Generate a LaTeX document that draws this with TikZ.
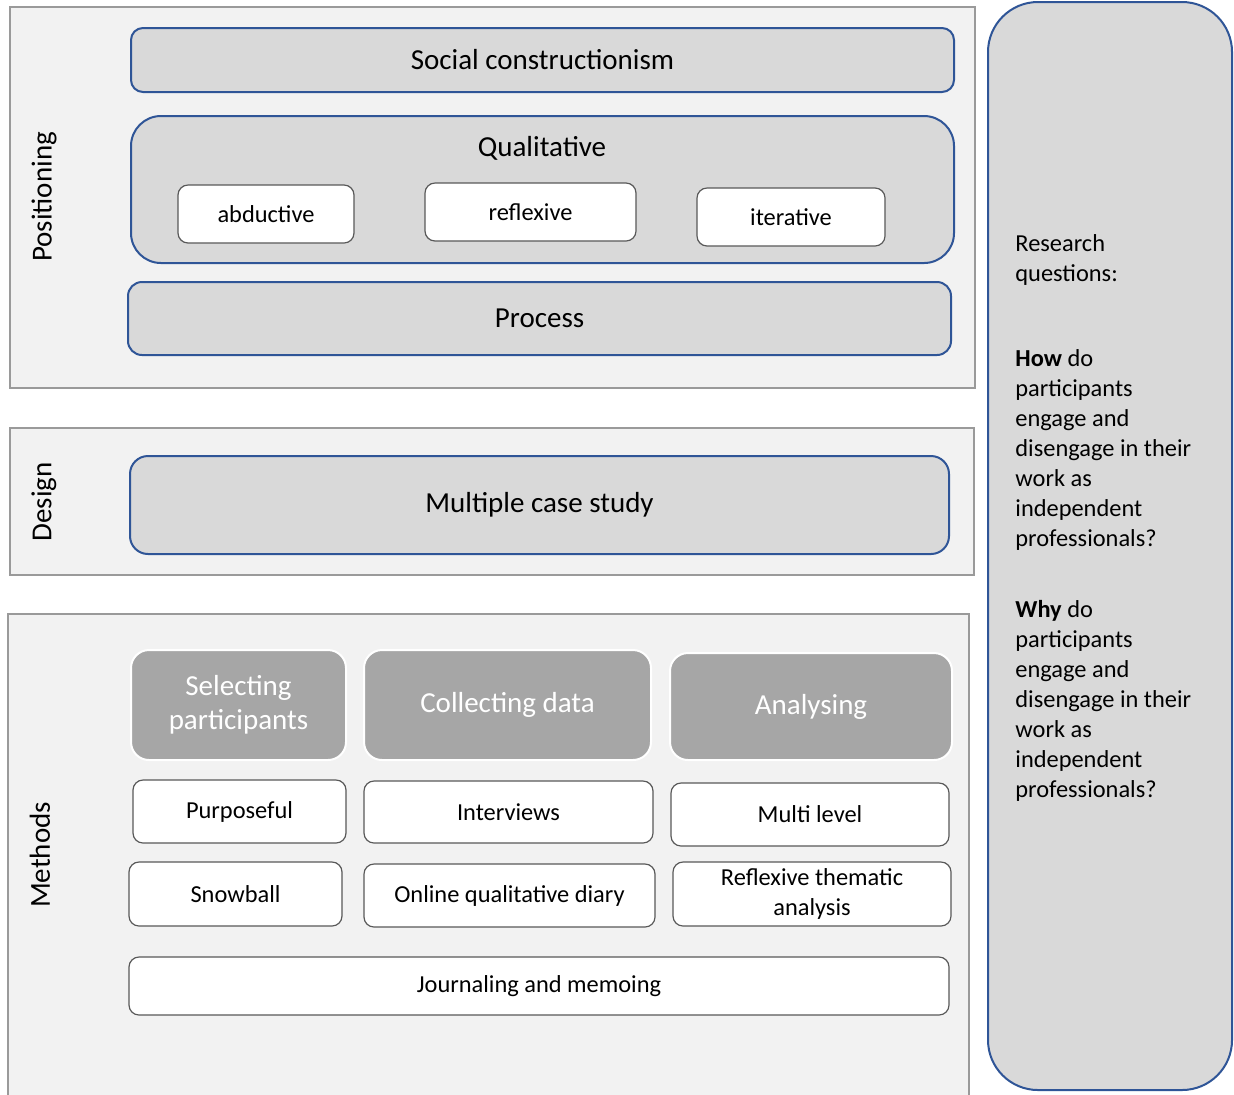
\documentclass[tikz,border=0pt]{standalone}
\usepackage{fontspec}
\setmainfont{Carlito}
\usetikzlibrary{positioning}

\definecolor{panelfill}{HTML}{F2F2F2}
\definecolor{panelline}{HTML}{9A9A9A}
\definecolor{boxblue}{HTML}{2F5597}
\definecolor{boxgray}{HTML}{D9D9D9}
\definecolor{headgray}{HTML}{A6A6A6}
\definecolor{itemline}{HTML}{595959}

\begin{document}
\begin{tikzpicture}[
    x=0.5pt,y=-0.5pt,
    big/.style={font=\fontsize{14.5}{17}\selectfont},
    small/.style={font=\fontsize{12.2}{15}\selectfont},
    panel/.style={draw=panelline,fill=panelfill,line width=1.1pt,inner sep=0mm},
    bluebox/.style={draw=boxblue,fill=boxgray,line width=1pt,
        rounded corners=6pt,inner sep=0mm,big},
    item/.style={draw=itemline,fill=white,line width=0.6pt,
        rounded corners=5pt,inner sep=0mm,small,align=center},
    head/.style={draw=white,fill=headgray,line width=1pt,text=white,
        rounded corners=9pt,inner sep=0mm,big,align=center},
    side/.style={rotate=90,big},
    rq/.style={anchor=west,inner sep=0mm,align=left,small}
]
 \clip (0,0) rectangle (1234,1094);
 \fill[white] (0,0) rectangle (1234,1094);

 % three panels on the left
 \node[panel,minimum width=482.5pt,minimum height=190.5pt] (pospanel) at (492.5,197.5) {};
 \node[panel,minimum width=482pt,minimum height=73.5pt] (despanel) at (492,501.5) {};
 \node[panel,minimum width=480.5pt,minimum height=243pt] (metpanel) at (488.5,857) {};

 \node[side] (poslbl) at (44,197) {Positioning};
 \node[side] (deslbl) at (44,502) {Design};
 \node[side] (metlbl) at (40,855) {Methods};

 % positioning
 \node[bluebox,minimum width=411.5pt,minimum height=32pt] (social) at (542.5,60) {Social constructionism};
 \node[bluebox,rounded corners=15pt,minimum width=411.5pt,minimum height=73.5pt] (qual) at (542.5,189.5) {};
 \node[big] (qualtxt) at (542,148) {Qualitative};
 \node[item,minimum width=88pt,minimum height=29pt] (abd) at (266,214) {abductive};
 \node[item,minimum width=105.5pt,minimum height=29pt] (refl) at (530.5,212) {reflexive};
 \node[item,minimum width=94pt,minimum height=29pt] (iter) at (791,217) {iterative};
 \node[bluebox,rounded corners=7pt,minimum width=411.5pt,minimum height=36.5pt] (process) at (539.5,318.5) {Process};

 % design
 \node[bluebox,rounded corners=9pt,minimum width=409.5pt,minimum height=49pt] (mcs) at (539.5,505) {Multiple case study};

 % methods
 \node[head,minimum width=107.5pt,minimum height=55pt] (select) at (238.5,705) {Selecting\\participants};
 \node[head,minimum width=143.5pt,minimum height=55pt] (collect) at (507.5,705) {Collecting data};
 \node[head,minimum width=141pt,minimum height=53.5pt] (analyse) at (811,706.5) {Analysing};

 \node[item,minimum width=106.5pt,minimum height=31.5pt] (purp) at (239.5,811.5) {Purposeful};
 \node[item,minimum width=144.5pt,minimum height=31pt] (interv) at (508.5,812) {Interviews};
 \node[item,minimum width=139pt,minimum height=31.5pt] (multi) at (810,814.5) {Multi level};

 \node[item,minimum width=106.5pt,minimum height=32pt] (snow) at (235.5,894) {Snowball};
 \node[item,minimum width=145.5pt,minimum height=31.5pt] (diary) at (509.5,895.5) {Online qualitative diary};
 \node[item,minimum width=139pt,minimum height=32pt] (rta) at (812,894) {Reflexive thematic\\analysis};

 \node[item,minimum width=410pt,minimum height=29pt] (journal) at (539,986) {Journaling and memoing};

 % research questions
 \node[bluebox,rounded corners=25pt,minimum width=122pt,minimum height=544pt] (rqbox) at (1110,546) {};
 \node[rq] (rqhead) at (1015,260) {Research\\questions:};
 \node[rq] (rqhow) at (1015,450) {\textbf{How} do\\participants\\engage and\\disengage in their\\work as\\independent\\professionals?};
 \node[rq] (rqwhy) at (1015,701) {\textbf{Why} do\\participants\\engage and\\disengage in their\\work as\\independent\\professionals?};
\end{tikzpicture}
\end{document}
